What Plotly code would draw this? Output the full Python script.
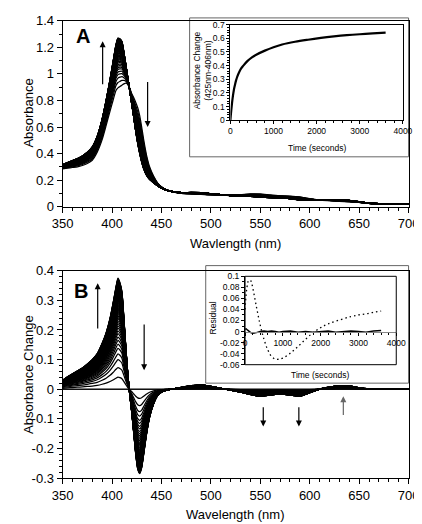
import plotly.graph_objects as go

# ---------------- data ----------------
wavelengths = [350, 355, 360, 365, 370, 375, 380, 385, 390, 394, 398, 401, 404, 406, 408,
               410, 412, 414, 416, 418, 420, 422, 424, 426, 428, 430, 432, 435, 438, 442,
               446, 450, 455, 460, 470, 480, 490, 500, 510, 520, 530, 540, 550, 560, 570,
               580, 590, 600, 610, 620, 630, 640, 650, 660, 670, 680, 690, 700]

initial_abs = [0.285, 0.29, 0.295, 0.30, 0.31, 0.325, 0.35, 0.41, 0.505, 0.61, 0.72, 0.80, 0.875, 0.895, 0.905,
               0.915, 0.925, 0.93, 0.92, 0.89, 0.85, 0.82, 0.785, 0.745, 0.685, 0.60, 0.505, 0.385, 0.30, 0.23,
               0.18, 0.15, 0.127, 0.115, 0.10, 0.095, 0.092, 0.088, 0.088, 0.086, 0.09, 0.096, 0.096, 0.088, 0.082,
               0.08, 0.074, 0.06, 0.05, 0.045, 0.04, 0.036, 0.032, 0.025, 0.022, 0.021, 0.02, 0.02]

final_diff = [0.03, 0.042, 0.052, 0.062, 0.072, 0.085, 0.10, 0.12, 0.155, 0.19, 0.24, 0.29, 0.345, 0.375, 0.36,
              0.33, 0.24, 0.14, 0.05, -0.02, -0.08, -0.15, -0.22, -0.27, -0.285, -0.265, -0.22, -0.15, -0.095, -0.05,
              -0.022, -0.01, -0.003, 0.0, 0.006, 0.012, 0.014, 0.01, 0.003, -0.003, -0.01, -0.018, -0.024, -0.02, -0.016,
              -0.02, -0.024, -0.012, 0.0, 0.007, 0.012, 0.011, 0.005, 0.001, 0.0, 0.0, 0.0, 0.0]

# extent of reaction for each recorded spectrum
fractions = [0.0, 0.108, 0.195, 0.266, 0.318, 0.368, 0.405, 0.44, 0.47, 0.5, 0.525, 0.55, 0.57, 0.59,
             0.61, 0.63, 0.645, 0.66, 0.675, 0.69, 0.7, 0.715, 0.725, 0.735, 0.745, 0.755, 0.765,
             0.775, 0.785, 0.795, 0.805, 0.815, 0.82, 0.83, 0.835, 0.845, 0.85, 0.86, 0.865, 0.87,
             0.88, 0.885, 0.89, 0.895, 0.9, 0.91, 0.915, 0.92, 0.925, 0.93, 0.935, 0.94, 0.945,
             0.95, 0.955, 0.96, 0.965, 0.97, 0.975, 0.98, 0.985, 0.99, 0.995, 1.0]

kin_time = [0, 20, 40, 60, 80, 100, 130, 160, 200, 250, 300, 400, 500, 600, 800, 1000, 1200,
            1500, 1800, 2100, 2400, 2700, 3000, 3300, 3600]
kin_abs = [0.0, 0.07, 0.13, 0.18, 0.22, 0.25, 0.29, 0.32, 0.35, 0.38, 0.4, 0.435, 0.46, 0.48,
           0.51, 0.535, 0.555, 0.575, 0.59, 0.603, 0.614, 0.623, 0.63, 0.636, 0.642]

res_time = [0, 30, 60, 100, 150, 200, 250, 300, 400, 500, 600, 700, 800, 900, 1000, 1200, 1400,
            1600, 1800, 2000, 2200, 2400, 2600, 2800, 3000, 3200, 3400, 3600]
res_two = [0.004, 0.005, 0.003, 0.0, -0.002, -0.003, -0.003, -0.002, 0.0, 0.001, 0.0, 0.001, 0.0,
           -0.001, 0.0, 0.001, -0.001, 0.0, -0.001, 0.0, 0.001, -0.001, 0.0, 0.001, 0.0, -0.001, 0.001, 0.002]

dot_time = [0, 50, 100, 150, 200, 300, 400, 500, 600, 700, 800, 900, 1000, 1200, 1400, 1600,
            1800, 2000, 2200, 2500, 2800, 3000, 3200, 3400, 3600]
res_one = [0.04, 0.08, 0.093, 0.092, 0.08, 0.045, 0.012, -0.014, -0.033, -0.045, -0.05, -0.05,
           -0.048, -0.039, -0.027, -0.014, -0.002, 0.007, 0.014, 0.021, 0.027, 0.03, 0.032, 0.035, 0.037]

a_ticks = [0, 0.2, 0.4, 0.6, 0.8, 1.0, 1.2, 1.4]
a_ticktext = ["0", "0.2", "0.4", "0.6", "0.8", "1", "1.2", "1.4"]
b_ticks = [-0.3, -0.2, -0.1, 0, 0.1, 0.2, 0.3, 0.4]
b_ticktext = ["-0.3", "-0.2", "-0.1", "0", "0.1", "0.2", "0.3", "0.4"]
ia_ticks = [0, 0.1, 0.2, 0.3, 0.4, 0.5, 0.6, 0.7]
ia_ticktext = ["0", "0.1", "0.2", "0.3", "0.4", "0.5", "0.6", "0.7"]
ib_ticks = [-0.06, -0.04, -0.02, 0, 0.02, 0.04, 0.06, 0.08, 0.1]
ib_ticktext = ["-0.06", "-0.04", "-0.02", "0", "0.02", "0.04", "0.06", "0.08", "0.1"]
time_ticks = [0, 1000, 2000, 3000, 4000]
time_ticktext = ["0", "1000", "2000", "3000", "4000"]

# ---------------- build traces ----------------
W, H = 422, 524
def px(x): return x / W
def py(y): return 1 - y / H

ax_x, ax_y, bx_x, bx_y = [], [], [], []
for f in fractions:
    ax_x += wavelengths + [None]
    ax_y += [a0 + f * d for a0, d in zip(initial_abs, final_diff)] + [None]
    bx_x += wavelengths + [None]
    bx_y += [f * d for d in final_diff] + [None]

fig = go.Figure()
line_k = dict(color="black", width=1.25, shape="spline", smoothing=0.6)
fig.add_trace(go.Scatter(x=ax_x, y=ax_y, mode="lines", line=line_k, xaxis="x", yaxis="y",
                         connectgaps=False, hoverinfo="skip"))
fig.add_trace(go.Scatter(x=bx_x, y=bx_y, mode="lines", line=line_k, xaxis="x2", yaxis="y2",
                         connectgaps=False, hoverinfo="skip"))
fig.add_trace(go.Scatter(x=kin_time, y=kin_abs, mode="lines",
                         line=dict(color="black", width=2.2, shape="spline"), xaxis="x3", yaxis="y3"))
fig.add_trace(go.Scatter(x=dot_time, y=res_one, mode="lines",
                         line=dict(color="black", width=1.3, dash="1.5px,3px", shape="spline"),
                         xaxis="x4", yaxis="y4"))
fig.add_trace(go.Scatter(x=res_time, y=res_two, mode="lines",
                         line=dict(color="black", width=1.4), xaxis="x4", yaxis="y4"))

FONT = "Liberation Sans, Arial, sans-serif"
main_x = dict(range=[350, 700], tick0=350, dtick=50, ticks="outside", ticklen=5, tickwidth=1,
              tickcolor="black", showline=True, linecolor="black", linewidth=1, mirror=True,
              showgrid=False, zeroline=False, tickfont=dict(size=13),
              minor=dict(dtick=10, ticks="outside", ticklen=3, tickcolor="black", showgrid=False))
inset_tick = dict(ticks="outside", ticklen=3, tickwidth=1, tickcolor="black", showgrid=False,
                  zeroline=False, tickfont=dict(size=8.5))

fig.update_layout(
    width=W, height=H, margin=dict(l=0, r=0, t=0, b=0),
    paper_bgcolor="white", plot_bgcolor="white", showlegend=False,
    font=dict(family=FONT, color="black"),
    xaxis=dict(domain=[px(46), px(411)], anchor="y", **main_x),
    yaxis=dict(domain=[py(197.3), py(6)], range=[0, 1.4], anchor="x", tickvals=a_ticks,
               ticktext=a_ticktext, ticks="outside", ticklen=5, tickcolor="black",
               showline=True, linecolor="black", mirror=True, showgrid=False, zeroline=False,
               tickfont=dict(size=13),
               minor=dict(dtick=0.1, ticks="outside", ticklen=3, tickcolor="black", showgrid=False)),
    xaxis2=dict(domain=[px(46), px(411)], anchor="y2", **main_x),
    yaxis2=dict(domain=[py(476.7), py(263.3)], range=[-0.3, 0.4], anchor="x2", tickvals=b_ticks,
                ticktext=b_ticktext, ticks="outside", ticklen=5, tickcolor="black",
                showline=True, linecolor="black", mirror=True, showgrid=False,
                zeroline=True, zerolinecolor="#444", zerolinewidth=1, tickfont=dict(size=13),
                minor=dict(dtick=0.02, ticks="outside", ticklen=3, tickcolor="black", showgrid=False)),
    xaxis3=dict(domain=[px(223), px(405)], range=[0, 4000], anchor="y3", tickvals=time_ticks,
                ticktext=time_ticktext, showline=True, linecolor="black", mirror=True,
                minor=dict(dtick=200, ticks="outside", ticklen=2, tickcolor="black", showgrid=False),
                **inset_tick),
    yaxis3=dict(domain=[py(108.3), py(10)], range=[0, 0.7], anchor="x3", tickvals=ia_ticks,
                ticktext=ia_ticktext, showline=True, linecolor="black", mirror=True,
                minor=dict(dtick=0.02, ticks="outside", ticklen=2, tickcolor="black", showgrid=False),
                **inset_tick),
    xaxis4=dict(domain=[px(238.5), px(398)], range=[0, 4000], anchor="free", position=py(325.9),
                tickvals=time_ticks, ticktext=time_ticktext, showline=True, linecolor="#888",
                minor=dict(dtick=200, ticks="outside", ticklen=2, tickcolor="black", showgrid=False),
                **inset_tick),
    yaxis4=dict(domain=[py(360), py(269)], range=[-0.06, 0.1], anchor="x4", tickvals=ib_ticks,
                ticktext=ib_ticktext, showline=True, linecolor="black",
                minor=dict(dtick=0.01, ticks="outside", ticklen=2, tickcolor="black", showgrid=False),
                **inset_tick),
)

shapes = [
    dict(type="rect", xref="paper", yref="paper", x0=px(180), x1=px(411), y0=py(146), y1=py(3),
         line=dict(color="#666", width=1), fillcolor="white", layer="below"),
    dict(type="rect", xref="paper", yref="paper", x0=px(197), x1=px(411), y0=py(379), y1=py(258),
         line=dict(color="#666", width=1), fillcolor="white", layer="below"),
    dict(type="rect", xref="x4 domain", yref="y4 domain", x0=0, x1=1, y0=0, y1=1,
         line=dict(color="black", width=1)),
]
fig.update_layout(shapes=shapes)

ann = []
def text(x, y, s, size, angle=0, bold=False):
    ann.append(dict(x=px(x), y=py(y), xref="paper", yref="paper", text=("<b>%s</b>" % s) if bold else s,
                    showarrow=False, textangle=angle, font=dict(size=size, family=FONT),
                    xanchor="center", yanchor="middle"))

text(10, 101, "Absorbance", 13, -90)
text(10, 370, "Absorbance Change", 13, -90)
text(228, 235, "Wavlength (nm)", 13)
text(228, 514, "Wavelength (nm)", 13)
text(68, 22, "A", 20, bold=True)
text(65, 284, "B", 20, bold=True)
text(193, 57, "Absorbance Change<br>(425nm-406nm)", 8.5, -90)
text(314, 137, "Time (seconds)", 8.5)
text(205, 312, "Residual", 8.5, -90)
text(318, 371, "Time (seconds)", 8.5)

def arrow(xr, yr, x, y0, y1, color="black"):
    ann.append(dict(x=x, y=y1, ax=x, ay=y0, xref=xr, yref=yr, axref=xr, ayref=yr, showarrow=True,
                    arrowhead=2, arrowsize=1, arrowwidth=1.2, arrowcolor=color, text=""))

arrow("x", "y", 390.5, 0.91, 1.246)
arrow("x", "y", 436, 0.95, 0.6)
arrow("x2", "y2", 385.5, 0.2, 0.358)
arrow("x2", "y2", 432.5, 0.224, 0.064)
arrow("x2", "y2", 553, -0.056, -0.126)
arrow("x2", "y2", 589, -0.056, -0.126)
arrow("x2", "y2", 634, -0.092, -0.024, "#666")
fig.update_layout(annotations=ann)

fig.write_html("out.html")
